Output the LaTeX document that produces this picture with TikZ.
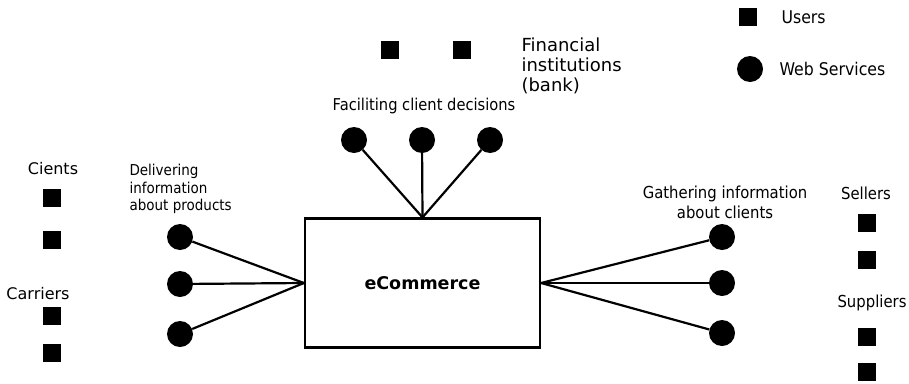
\documentclass[tikz,border=0pt]{standalone}
\usepackage{fontspec}
\setmainfont{DejaVu Sans}
\newfontfamily\condfont[FakeStretch=0.9]{DejaVu Sans}
\begin{document}
\begin{tikzpicture}[x=1pt,y=-1pt]
        \tikzstyle{every node}=[font=\condfont\fontsize{16.5}{20}\selectfont]
        \tikzstyle{user}=[draw=none,fill=black,rectangle,minimum size=17.5pt,inner sep=0pt]
        \tikzstyle{service}=[draw=none,fill=black,circle,minimum size=26pt,inner sep=0pt]
        \tikzstyle{link}=[line width=2.2pt]
        \useasboundingbox (0,0) rectangle (909,383);

        % legend
        \node[user] (legu) at (748,17) {};
        \node[anchor=west,font=\condfont\fontsize{17.5}{20}\selectfont] (legutxt) at (778,17) {Users};
        \node[service] (legs) at (750,69) {};
        \node[anchor=west,font=\condfont\fontsize{17.5}{20}\selectfont] (legstxt) at (776,69) {Web Services};

        % main box
        \node[draw,line width=2.2pt,minimum width=235pt,minimum height=129pt,font=\fontsize{17.5}{20}\selectfont] (ecom) at (422.5,283) {\textbf{eCommerce}};

        % top services
        \node[service] (t1) at (354,140) {};
        \node[service] (t2) at (422,140) {};
        \node[service] (t3) at (490,140) {};
        \node[font=\condfont\fontsize{16.3}{20}\selectfont] (ttxt) at (424,106) {Faciliting client decisions};
        \draw[link] (t1) -- (ecom.north);
        \draw[link] (t2) -- (ecom.north);
        \draw[link] (t3) -- (ecom.north);

        % left services
        \node[service] (l1) at (180,237) {};
        \node[service] (l2) at (180,284) {};
        \node[service] (l3) at (180,334) {};
        \node[anchor=west,align=left,font=\condfont\fontsize{15}{17.5}\selectfont] (ltxt) at (126,189) {Delivering\\information\\about products};
        \draw[link] (l1) -- (ecom.west);
        \draw[link] (l2) -- (ecom.west);
        \draw[link] (l3) -- (ecom.west);

        % right services
        \node[service] (r1) at (722,237) {};
        \node[service] (r2) at (722,283) {};
        \node[service] (r3) at (722,333) {};
        \node[align=center] (rtxt) at (725,202) {Gathering information\\about clients};
        \draw[link] (r1) -- (ecom.east);
        \draw[link] (r2) -- (ecom.east);
        \draw[link] (r3) -- (ecom.east);

        % banks
        \node[user] (b1) at (390,50) {};
        \node[user] (b2) at (462,50) {};
        \node[anchor=west,align=left,font=\fontsize{18}{20}\selectfont] (btxt) at (518,66) {Financial\\institutions\\(bank)};

        % clients and carriers
        \node[font=\fontsize{16}{20}\selectfont] (clitxt) at (53,169) {Cients};
        \node[user] (c1) at (52,198) {};
        \node[user] (c2) at (52,240) {};
        \node[font=\fontsize{16}{20}\selectfont] (cartxt) at (38,294) {Carriers};
        \node[user] (k1) at (52,316) {};
        \node[user] (k2) at (52,353) {};

        % sellers and suppliers
        \node[] (seltxt) at (866,193) {Sellers};
        \node[user] (s1) at (867,223) {};
        \node[user] (s2) at (867,260) {};
        \node[] (suptxt) at (872,303) {Suppliers};
        \node[user] (p1) at (867,337) {};
        \node[user] (p2) at (867,372) {};
\end{tikzpicture}
\end{document}
